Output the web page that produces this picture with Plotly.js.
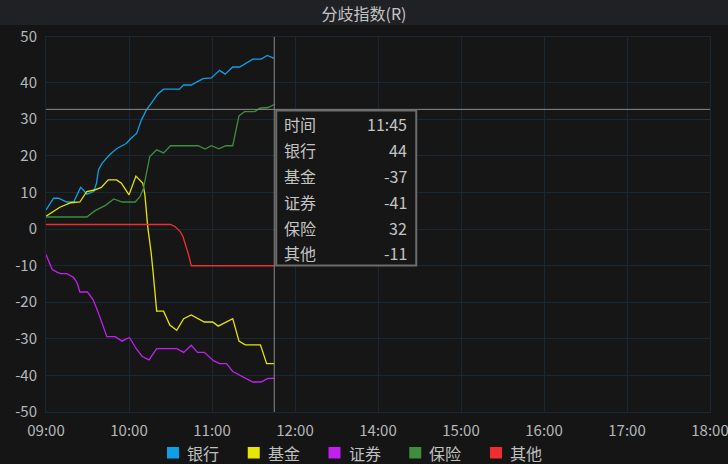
<!DOCTYPE html>
<html>
<head>
<meta charset="utf-8">
<script src="https://cdn.plot.ly/plotly-3.0.1.min.js"></script>
<style>
  html, body { margin: 0; padding: 0; background: #151515; }
  #chart { width: 728px; height: 464px; }
</style>
</head>
<body>
<div id="chart"></div>
<script>
// ---- data (minutes after 09:00, index value) ----
const seriesNames = ['银行', '基金', '证券', '保险', '其他'];
const xTickLabels = ['09:00', '10:00', '11:00', '12:00', '14:00', '15:00', '16:00', '17:00', '18:00'];
const yTickLabels = ['-50', '-40', '-30', '-20', '-10', '0', '10', '20', '30', '40', '50'];

const bankT = [0, 5.5, 9, 11.5, 15, 20, 22.5, 25, 27.5, 29.5, 34.5, 36.5, 38, 40.5, 46, 51, 58, 61.5, 65.5, 69, 72.5, 77.5, 81, 85, 96.5, 99.5, 105, 108.5, 113.5, 119.5, 125.5, 129.5, 135, 140, 145, 149.5, 155.5, 160, 165];
const bankV = [3.9, 7.0, 7.0, 6.6, 6.0, 6.0, 7.9, 9.9, 9.0, 8.1, 8.8, 11.0, 14.6, 16.3, 18.6, 20.2, 21.6, 23.0, 24.3, 27.9, 30.5, 33.2, 34.9, 36.1, 36.1, 37.2, 37.2, 37.9, 38.9, 39.1, 41.1, 40.1, 42.0, 42.0, 43.2, 44.1, 44.1, 45.1, 44.3];

const fundT = [0, 10, 18, 24.5, 29.5, 35, 40, 45, 51, 54.5, 60, 65, 70, 71.5, 73.5, 75, 76, 77.5, 78.5, 80, 85, 89.5, 94.5, 99.5, 105, 114.5, 120.5, 124.5, 135, 139.5, 144, 155, 159.5, 165];
const fundV = [2.2, 4.6, 5.8, 6.0, 8.8, 9.2, 9.9, 11.9, 11.9, 11.0, 7.9, 12.9, 11.0, 7.9, -0.5, -4.5, -7.5, -13.0, -17.8, -23.1, -23.1, -26.8, -28.2, -25.1, -24.1, -26.0, -26.0, -27.1, -25.1, -31.1, -32.1, -32.1, -37.1, -37.1];

const secT = [0, 2, 4.5, 8, 10.5, 15, 20, 22.5, 24.5, 30, 34, 37, 39.5, 41.5, 44, 50, 55, 58, 60.5, 65, 69.5, 74.5, 80, 94.5, 99.5, 105, 109.5, 114.5, 121, 125.5, 130.5, 135, 141.5, 149.5, 155.5, 160, 165];
const secV = [-8.0, -9.8, -12.0, -12.7, -13.1, -13.1, -14.1, -15.6, -18.0, -18.0, -20.0, -22.7, -25.3, -27.6, -29.9, -29.9, -31.1, -30.5, -30.2, -33.0, -35.2, -36.1, -33.1, -33.1, -34.1, -32.2, -34.1, -34.1, -36.3, -37.1, -37.1, -39.2, -40.4, -42.0, -42.0, -41.1, -41.0];

const insT = [0, 29.5, 35.5, 43, 49, 55, 64.5, 68, 70.5, 73, 75, 80, 85, 90, 110, 115, 119.5, 125, 130, 135, 139.5, 143.5, 151, 154.5, 160.5, 165];
const insV = [2.0, 2.0, 3.7, 5.1, 6.8, 6.0, 6.0, 7.5, 9.7, 14.1, 18.1, 19.9, 19.1, 21.0, 21.0, 20.1, 21.0, 20.2, 21.0, 21.0, 29.0, 30.1, 30.1, 31.0, 31.2, 32.0];

const othT = [0, 90, 93.5, 97, 99, 101, 103, 105, 165];
const othV = [0, 0, -0.6, -1.9, -3.2, -5.4, -8.0, -11.0, -11.0];

// ---- styles ----
const colors = ['#0ea0e6', '#e6e600', '#c21ff0', '#3d8f3d', '#ef2f2f'];
const seriesT = [bankT, fundT, secT, insT, othT];
const seriesV = [bankV, fundV, secV, insV, othV];
const FONT = '"Noto Sans CJK SC", "Noto Sans", sans-serif';
const gridColor = '#1a2734';
const textColor = '#b4b8bc';

const M = { l: 46, r: 18, t: 37, b: 52 };
const PW = 728 - M.l - M.r;
const gridStep = 9.76;          // reference draws its grid at this spacing
const cursorY = 30.7;           // horizontal crosshair level
const cursorT = bankT[bankT.length - 1];

const traces = seriesNames.map((n, i) => ({
  type: 'scatter', mode: 'lines', name: n,
  x: seriesT[i], y: seriesV[i],
  line: { color: colors[i], width: 1.3 },
  showlegend: false, hoverinfo: 'skip'
}));

function timeLabel(m) {
  const h = 9 + Math.floor(m / 60), mm = Math.round(m % 60);
  return String(h).padStart(2, '0') + ':' + String(mm).padStart(2, '0');
}

const shapes = [
  // title bar
  { type: 'rect', xref: 'paper', x0: -0.2, x1: 1.2, yref: 'paper', ysizemode: 'pixel', yanchor: 1,
    y0: 12, y1: 40, fillcolor: '#202124', line: { width: 0 }, layer: 'below' },
  // crosshair
  { type: 'line', xref: 'x', x0: cursorT, x1: cursorT, yref: 'paper', y0: 0, y1: 1,
    line: { color: '#8a8a8a', width: 1 } },
  { type: 'line', xref: 'paper', x0: 0, x1: 1, yref: 'y', y0: cursorY, y1: cursorY,
    line: { color: '#8a8a8a', width: 1 } },
  // tooltip box
  { type: 'rect', xref: 'x', xsizemode: 'pixel', xanchor: cursorT, x0: 2, x1: 142,
    yref: 'y', ysizemode: 'pixel', yanchor: cursorY, y0: -1, y1: -156,
    fillcolor: '#161616', line: { color: '#6c6c6c', width: 2 }, layer: 'above' }
];

const annotations = [];
const tipRows = [['时间', timeLabel(cursorT)]].concat(
  seriesNames.map((n, i) => [n, String(Math.round(seriesV[i][seriesV[i].length - 1]))]));
tipRows.forEach((r, i) => {
  const ys = -(15 + i * 25.8);
  annotations.push({ xref: 'x', x: cursorT, yref: 'y', y: cursorY, xanchor: 'left', yanchor: 'middle',
    xshift: 8, yshift: ys, text: r[0], showarrow: false, font: { family: FONT, size: 16, color: '#c4c4c4' } });
  annotations.push({ xref: 'x', x: cursorT, yref: 'y', y: cursorY, xanchor: 'right', yanchor: 'middle',
    xshift: 135, yshift: ys, text: r[1], showarrow: false, font: { family: FONT, size: 16, color: '#c4c4c4' } });
});

// legend (drawn manually as square swatches)
seriesNames.forEach((n, i) => {
  const px = 167 + i * 80.75;
  shapes.push({ type: 'rect', xref: 'paper', x0: (px - M.l) / PW, x1: (px + 12 - M.l) / PW,
    yref: 'paper', ysizemode: 'pixel', yanchor: 0, y0: -35, y1: -46.5,
    fillcolor: colors[i], line: { width: 0 } });
  annotations.push({ xref: 'paper', x: (px + 18 - M.l) / PW, yref: 'paper', y: 0, xanchor: 'left',
    yanchor: 'middle', yshift: -40.5, text: n, showarrow: false,
    font: { family: FONT, size: 16, color: '#c0c0c0' } });
});

const layout = {
  width: 728, height: 464,
  margin: M,
  paper_bgcolor: '#151515', plot_bgcolor: '#161616',
  font: { family: FONT, color: textColor },
  title: { text: '分歧指数(R)', x: 0.5, xref: 'container', xanchor: 'center',
    y: 1 - 14 / 464, yref: 'container', yanchor: 'middle',
    font: { family: FONT, size: 16, color: '#c4c4c4' } },
  xaxis: {
    range: [0, 480], tickvals: xTickLabels.map((_, i) => i * 60), ticktext: xTickLabels,
    showgrid: true, gridcolor: gridColor, gridwidth: 1, zeroline: false,
    showline: true, mirror: true, linecolor: gridColor, linewidth: 1,
    ticks: '', ticklabelstandoff: 5, ticklabeloverflow: 'allow',
    tickfont: { family: FONT, size: 15, color: textColor },
    fixedrange: true
  },
  yaxis: {
    range: [-50, 50],
    tickvals: yTickLabels.map((_, i) => i < yTickLabels.length - 1 ? -50 + i * gridStep : 50),
    ticktext: yTickLabels,
    showgrid: true, gridcolor: gridColor, gridwidth: 1, zeroline: false,
    showline: true, mirror: true, linecolor: gridColor, linewidth: 1,
    ticks: '', ticklabelstandoff: 5, tickfont: { family: FONT, size: 15, color: textColor },
    fixedrange: true
  },
  shapes: shapes,
  annotations: annotations,
  showlegend: false,
  hovermode: false
};

Plotly.newPlot('chart', traces, layout, { displayModeBar: false, staticPlot: true });
</script>
</body>
</html>
